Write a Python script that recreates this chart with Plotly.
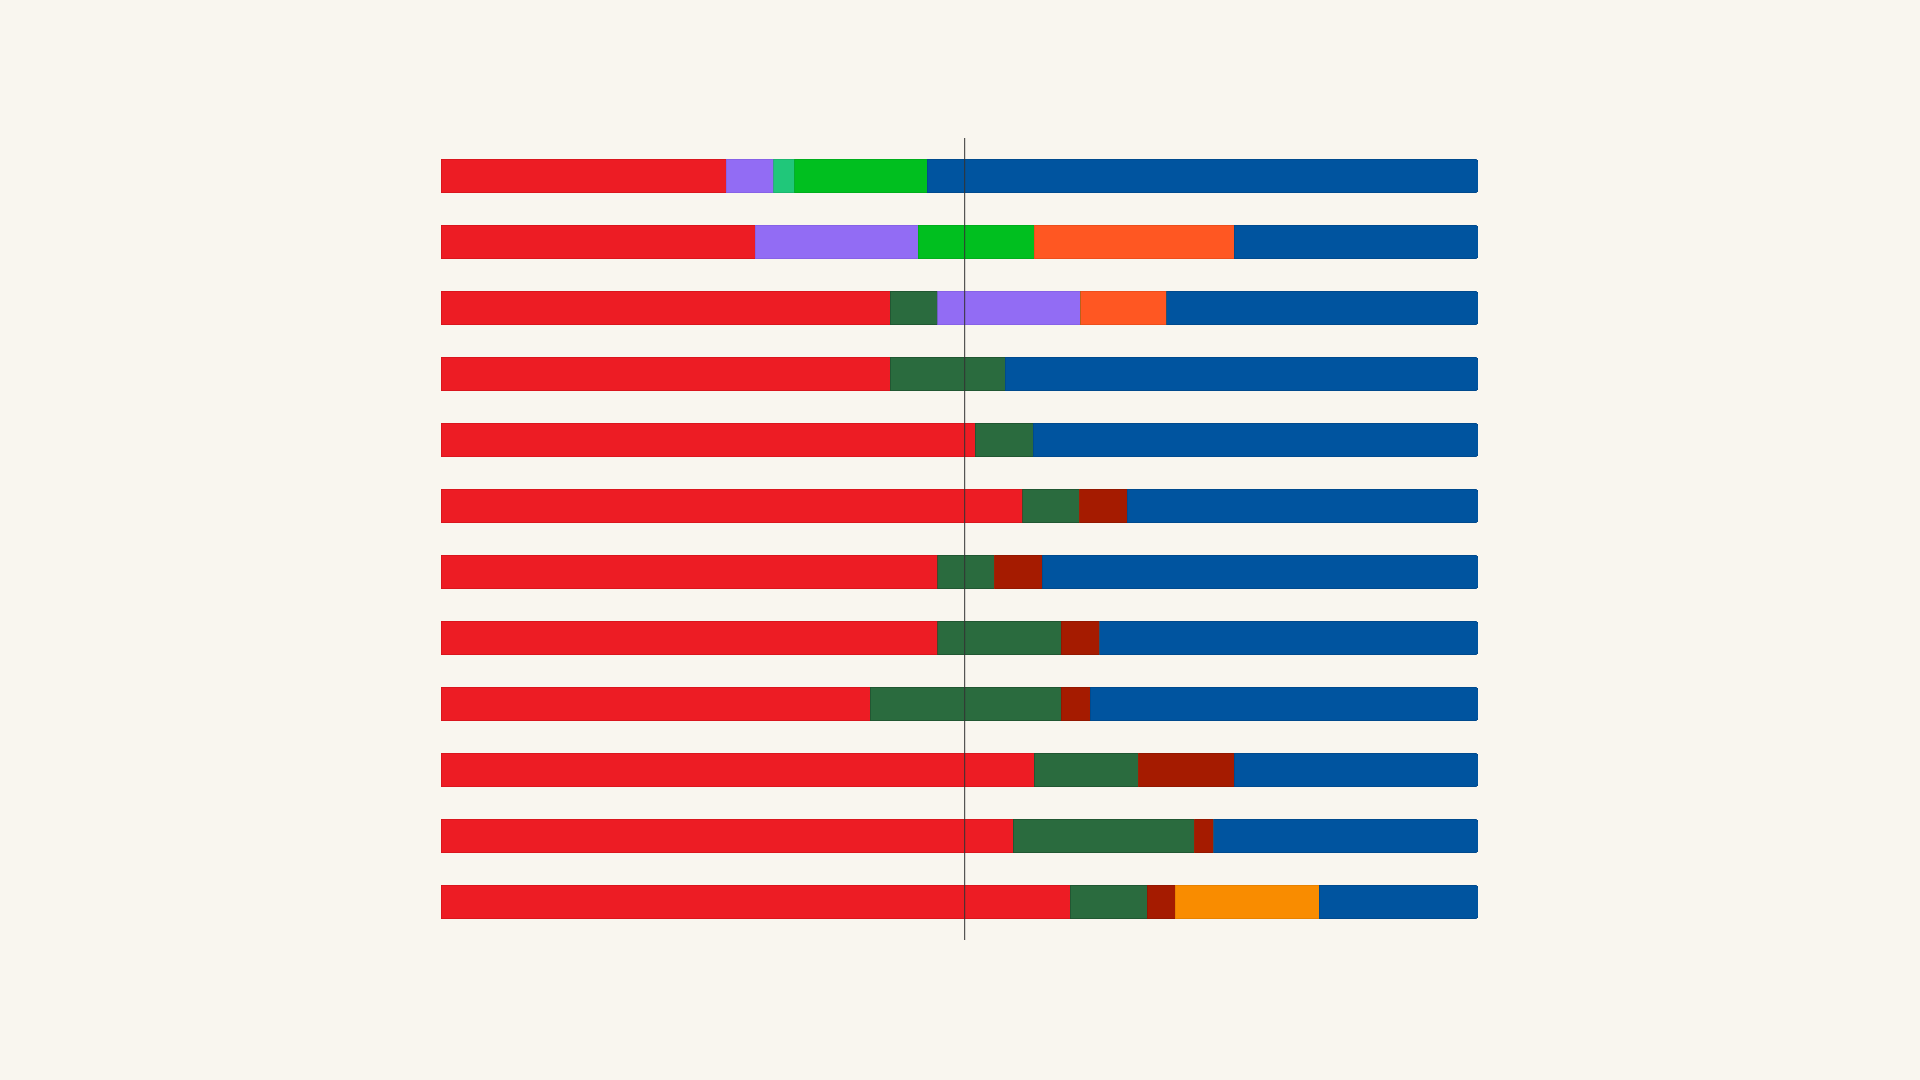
import plotly.graph_objects as go

rows = ["R1", "R2", "R3", "R4", "R5", "R6", "R7", "R8", "R9", "R10", "R11", "R12"]

red        = [27.5, 30.3, 43.3, 43.3, 51.5, 56.1, 47.9, 47.9, 41.4, 57.2, 55.2, 60.7]
dark_green = [0, 0, 4.6, 11.1, 5.6, 5.5, 5.5, 11.9, 18.4, 10.1, 17.5, 7.4]
purple     = [4.6, 15.7, 13.8, 0, 0, 0, 0, 0, 0, 0, 0, 0]
teal       = [2.0, 0, 0, 0, 0, 0, 0, 0, 0, 0, 0, 0]
green      = [12.8, 11.2, 0, 0, 0, 0, 0, 0, 0, 0, 0, 0]
orange_red = [0, 19.3, 8.3, 0, 0, 0, 0, 0, 0, 0, 0, 0]
dark_red   = [0, 0, 0, 0, 0, 4.6, 4.6, 3.7, 2.8, 9.2, 1.8, 2.7]
orange     = [0, 0, 0, 0, 0, 0, 0, 0, 0, 0, 0, 13.9]
blue       = [53.1, 23.5, 30.0, 45.6, 42.9, 33.8, 42.0, 36.5, 37.4, 23.5, 25.5, 15.3]

threshold = 50.5

series = [
    ("red", red, "#ED1C24", "#D5141B"),
    ("dark_green", dark_green, "#2A6B3E", "#1F5330"),
    ("purple", purple, "#926CF4", "#8460E4"),
    ("teal", teal, "#20C77A", "#1BB36D"),
    ("green", green, "#00BF1F", "#00AA1B"),
    ("orange_red", orange_red, "#FF5722", "#E94C1C"),
    ("dark_red", dark_red, "#A51B00", "#8E1600"),
    ("orange", orange, "#F98C00", "#E38000"),
    ("blue", blue, "#00549F", "#00478A"),
]

fig = go.Figure()
for name, vals, col, edge in series:
    fig.add_trace(go.Bar(
        y=rows, x=vals, name=name, orientation="h",
        marker=dict(color=col, line=dict(color=edge, width=0.8)),
        hoverinfo="x+name",
    ))

fig.add_shape(type="line", xref="x", yref="paper", x0=threshold, x1=threshold,
              y0=0, y1=1, line=dict(color="#333333", width=1), layer="above")

fig.update_layout(
    barmode="stack",
    bargap=0.494,
    barcornerradius=3,
    width=1920, height=1080,
    paper_bgcolor="#F9F6EF", plot_bgcolor="#F9F6EF",
    showlegend=False,
    margin=dict(l=441, r=442, t=138, b=140),
    xaxis=dict(range=[0, 100], visible=False, fixedrange=True),
    yaxis=dict(autorange=False, range=[11.576, -0.576], visible=False,
               categoryorder="array", categoryarray=rows, fixedrange=True),
)

fig.write_html("out.html", config={"displayModeBar": False})
